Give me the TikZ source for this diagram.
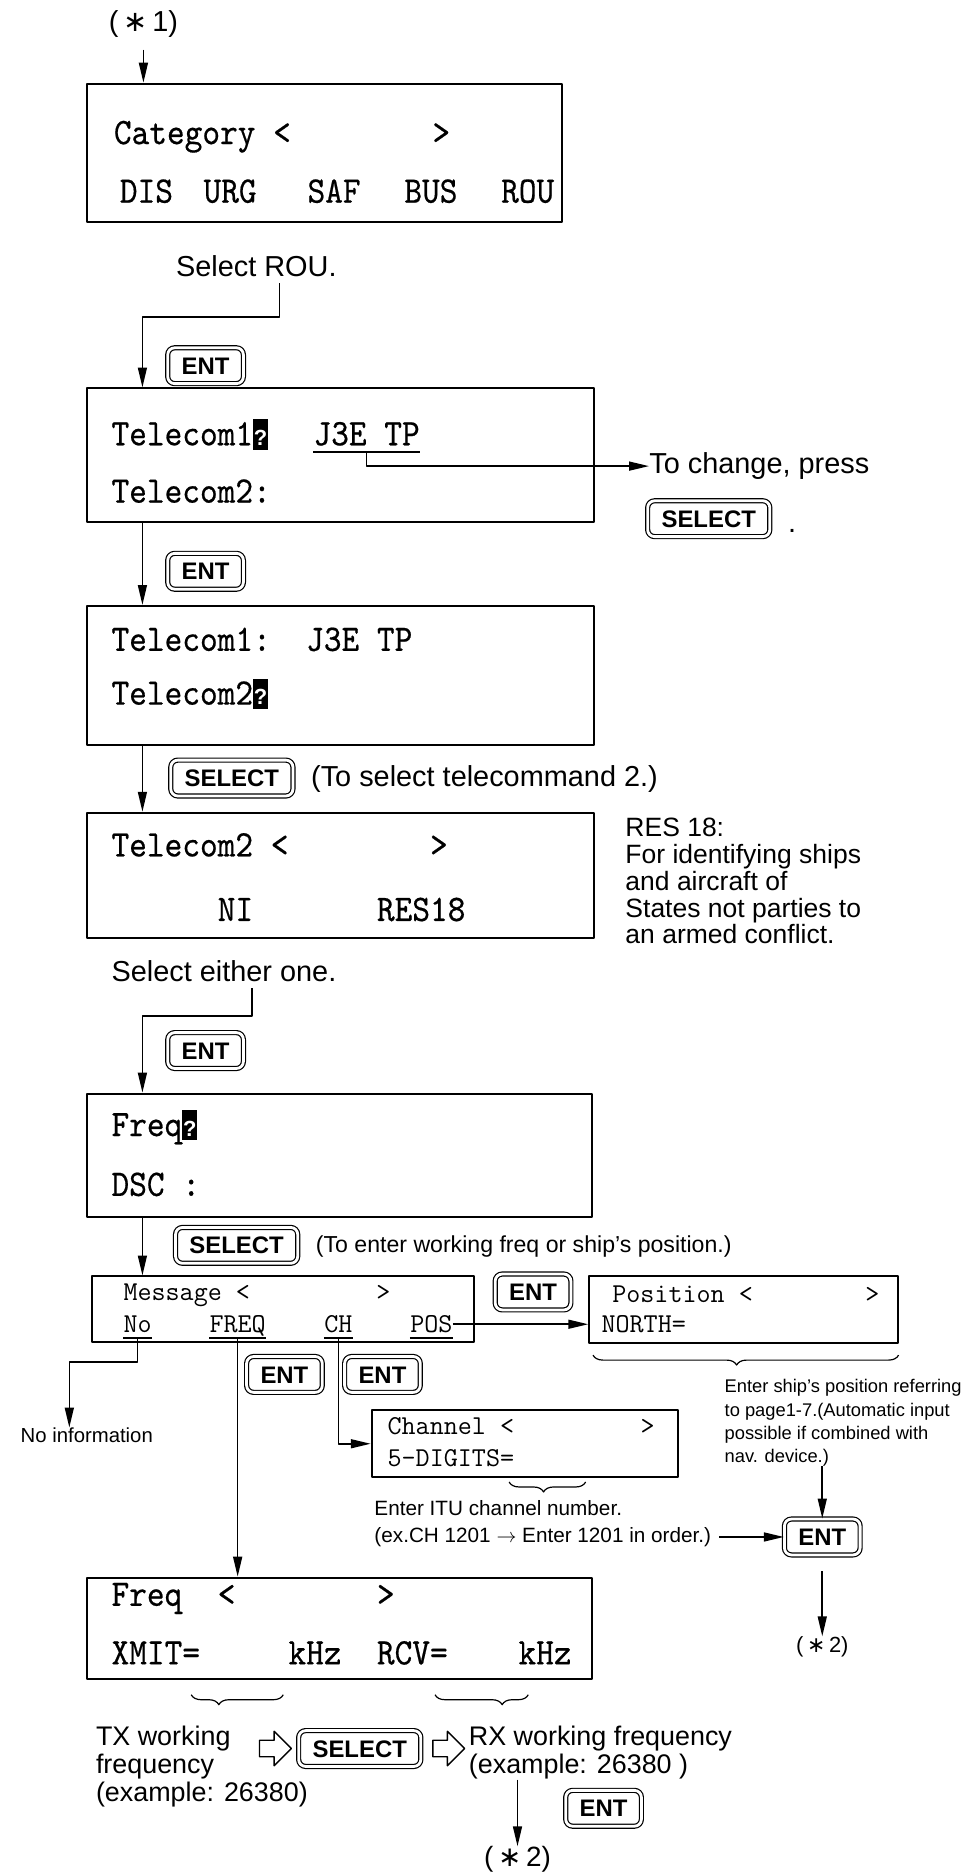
\documentclass[tikz,border=0pt]{standalone}
\usepackage{fontspec}
\setmainfont{Liberation Sans}
\newfontfamily\lcdfont[FakeStretch=0.9, FakeBold=0.5]{lmmono10-regular.otf}
\newfontfamily\starfont{DejaVu Sans}
\usetikzlibrary{calc,arrows.meta,fit,shapes.arrows,decorations.pathreplacing}

% inverse-video cursor of the display
\newcommand{\lcdcur}{{\setlength{\fboxsep}{0.4pt}\colorbox{black}{\textcolor{white}{\rule[-1.8pt]{0pt}{14.5pt}\rmfamily\bfseries\fontsize{11}{11}\selectfont ?}}}}
\newcommand{\stepmark}[1]{(\,{\starfont ∗}\,#1)}

\tikzset{
  lcdbox/.style={draw, line width=1pt, inner sep=0pt},
  lcd/.style={font=\lcdfont\fontsize{18.8}{18.8}\selectfont, inner sep=0pt, anchor=west, text height=11.5pt, text depth=0pt},
  lcds/.style={font=\ttfamily\fontsize{13.7}{13.7}\selectfont, inner sep=0pt, anchor=west, text height=8.4pt, text depth=0pt},
  keycap/.style={draw, double, double distance=1.4pt, line width=0.6pt, rounded corners=3.5pt, font=\bfseries\fontsize{12}{12}\selectfont, minimum height=18pt, inner xsep=7pt, text height=8.6pt, text depth=0pt},
  lbl/.style={inner sep=0pt, anchor=west, font=\fontsize{14.5}{17}\selectfont},
  note/.style={inner sep=0pt, anchor=north west, align=left},
  arr/.style={-{Triangle[length=10pt,width=4.5pt]}, line width=0.8pt},
  ubrace/.style={decorate, decoration={brace, mirror, amplitude=5pt}, line width=0.6pt},
  hollow/.style={single arrow, draw, line width=0.7pt, minimum height=16pt, inner sep=3.8pt, single arrow head extend=4.5pt}
}

\begin{document}
\begin{tikzpicture}[x=0.6pt, y=-0.6pt, line join=round]
  \useasboundingbox (0,0) rectangle (804,1568);

  % entry point
  \node[font=\fontsize{14.5}{14.5}\selectfont, inner sep=0pt] (star1) at (120,20) {\stepmark{1}};

  % Category screen
  \node[lcdbox, fit={(73,70) (470,186)}] (cat) {};
  \node[lcd] (cat-l1) at (95,111) {Category~<~~~~~~~~>};
  \foreach \w/\x in {DIS/100, URG/170, SAF/257, BUS/338, ROU/419}
    \node[lcd] (cat-\w) at (\x,160) {\w};
  \draw[arr] ([yshift=-6pt]star1.south) -- (star1.south |- cat.north);

  \node[lbl] (selrou) at (147,223) {Select ROU.};
  \coordinate (rou-tail) at (234,237);

  % Telecom1 screen
  \node[lcdbox, fit={(73,325) (497,437)}] (tel1) {};
  \node[lcd] (tel1-l1) at (93,363) {Telecom1\lcdcur};
  \node[lcd, inner ysep=3pt] (j3e) at (262,363) {J3E~TP};
  \draw[line width=0.9pt] (j3e.south west) -- (j3e.south east);
  \node[lcd] (tel1-l2) at (93,411) {Telecom2:};
  \node[keycap] (k1) at (172,306) {ENT};
  \draw[arr] (rou-tail) -- ++(0,28) -| ($(tel1.north west)+(47,0)$);

  % how to change telecommand 1
  \node[lbl] (chg) at (543,390) {To change, press};
  \node[keycap] (k2) at (593,434) {SELECT};
  \node[lbl] (dot) at (659,444) {.};
  \draw[arr] (j3e.south) |- (chg.west);

  % Telecom2 screen
  \node[lcdbox, fit={(73,507) (497,623)}] (tel2) {};
  \node[lcd] (tel2-l1) at (93,535) {Telecom1:~~J3E~TP};
  \node[lcd] (tel2-l2) at (93,580) {Telecom2\lcdcur};
  \node[keycap] (k3) at (172,478) {ENT};
  \draw[arr] ($(tel1.south west)+(47,0)$) -- ($(tel2.north west)+(47,0)$);

  % Telecom2 choice
  \node[lcdbox, fit={(73,680) (497,785)}] (tel3) {};
  \node[lcd] (tel3-l1) at (93,707) {Telecom2~<~~~~~~~~>};
  \node[lcd] (tel3-l2) at (93,761) {~~~~~~NI~~~~~~~RES18};
  \node[keycap] (k4) at (194,651) {SELECT};
  \node[lbl] (sel2) at (260,652) {(To select telecommand 2.)};
  \draw[arr] ($(tel2.south west)+(47,0)$) -- ($(tel3.north west)+(47,0)$);
  \node[note, font=\fontsize{13.3}{13.5}\selectfont] (res) at (523,684)
    {RES 18:\\For identifying ships\\and aircraft of\\States not parties to\\an armed conflict.};

  \node[lbl] (either) at (93,813) {Select either one.};
  \coordinate (one-tail) at (211,827);

  % Freq screen
  \node[lcdbox, fit={(73,915) (495,1018)}] (frq) {};
  \node[lcd] (frq-l1) at (93,941) {Freq\lcdcur};
  \node[lcd] (frq-l2) at (93,991) {DSC~:};
  \node[keycap] (k5) at (172,879) {ENT};
  \draw[arr] (one-tail) -- ++(0,23) -| ($(frq.north west)+(47,0)$);

  % Message screen
  \node[lcdbox, fit={(77,1068) (397,1123)}] (msg) {};
  \node[lcds] (msg-l1) at (103,1081) {Message~<~~~~~~~~~>};
  \foreach \w/\x in {No/103, FREQ/175, CH/271, POS/343}
    \node[lcds, inner ysep=2.5pt] (msg-\w) at (\x,1108) {\w};
  \foreach \w in {No, FREQ, CH, POS}
    \draw[line width=0.8pt] (msg-\w.south west) -- (msg-\w.south east);
  \node[keycap] (k6) at (198,1042) {SELECT};
  \node[lbl, font=\fontsize{11.6}{14}\selectfont] (sel3) at (264,1043) {(To enter working freq or ship's position.)};
  \coordinate (spine5) at ($(frq.south west)+(47,0)$);
  \draw[arr] (spine5) -- (spine5 |- msg.north);

  % Position screen
  \node[lcdbox, fit={(493,1068) (751,1124)}] (pos) {};
  \node[lcds] (pos-l1) at (512,1083) {Position~<~~~~~~~~>};
  \node[lcds] (pos-l2) at (503,1108) {NORTH=};
  \node[keycap] (k7) at (446,1081) {ENT};
  \draw[arr] (msg-POS.east) -- (msg-POS.east -| pos.west);
  \draw[ubrace, decoration={aspect=0.47}] ($(pos.south west)+(4,9)$) -- ($(pos.south east)+(0,9)$);
  \node[note, font=\fontsize{9.2}{11.6}\selectfont] (posnote) at (606,1154)
    {Enter ship's position referring\\to page1-7.(Automatic input\\possible if combined with\\nav. device.)};

  % no information
  \node[lbl, font=\fontsize{10.2}{12}\selectfont] (noinfo) at (17,1201) {No information};
  \draw[arr] (msg-No.south) -- ++(0,20) -| ($(noinfo.north west)+(41,0)$);

  % Channel screen
  \node[lcdbox, fit={(311,1180) (567,1236)}] (chn) {};
  \node[lcds] (chn-l1) at (324,1193) {Channel~<~~~~~~~~~>};
  \node[lcds] (chn-l2) at (324,1220) {5-DIGITS=};
  \node[keycap] (k8) at (238,1150) {ENT};
  \node[keycap] (k9) at (320,1150) {ENT};
  \draw[arr] (msg-CH.south) |- (chn.west);
  \draw[ubrace, decoration={aspect=0.45}] (426,1240) -- (490,1240);
  \node[lbl, font=\fontsize{10.4}{12}\selectfont] (itu) at (313,1262) {Enter ITU channel number.};
  \node[lbl, font=\fontsize{10.4}{12}\selectfont] (itu-ex) at (313,1286) {(ex.CH 1201 $\to$ Enter 1201 in order.)};

  % ENT after position or channel
  \node[keycap] (k10) at (688,1286) {ENT};
  \draw[arr, shorten <=4pt] (itu-ex.east) -- (k10.west);
  \draw[arr] (k10.north |- posnote.south) -- (k10.north);
  \node[font=\fontsize{11}{11}\selectfont, inner sep=0pt] (star2a) at (688,1378) {\stepmark{2}};
  \draw[arr, shorten <=8pt] (k10.south) -- (star2a.north);

  % Freq entry screen
  \node[lcdbox, fit={(73,1320) (495,1405)}] (fset) {};
  \node[lcd] (fset-l1) at (93,1334) {Freq~~<~~~~~~~~>};
  \node[lcd] (fset-l2) at (93,1383) {XMIT=~~~~~kHz~~RCV=~~~~kHz};
  \draw[arr] (msg-FREQ.south) -- (msg-FREQ.south |- fset.north);
  \draw[ubrace, decoration={aspect=0.3}] (160,1418) -- (237,1418);
  \draw[ubrace, decoration={aspect=0.72}] (364,1418) -- (442,1418);

  % TX then RX
  \node[note, font=\fontsize{13.5}{14}\selectfont] (tx) at (80,1444) {TX working\\frequency\\(example: 26380)};
  \node[hollow] (ha1) at (227,1463) {};
  \node[keycap] (k11) at (301,1463) {SELECT};
  \node[hollow] (ha2) at (372,1463) {};
  \node[note, font=\fontsize{13.5}{14}\selectfont] (rx) at (392,1444) {RX working frequency\\(example: 26380 )};
  \node[font=\fontsize{14}{14}\selectfont, inner sep=0pt] (star2b) at (433,1556) {\stepmark{2}};
  \node[keycap] (k12) at (505,1513) {ENT};
  \draw[arr] (star2b |- rx.south) -- (star2b.north);
\end{tikzpicture}
\end{document}
